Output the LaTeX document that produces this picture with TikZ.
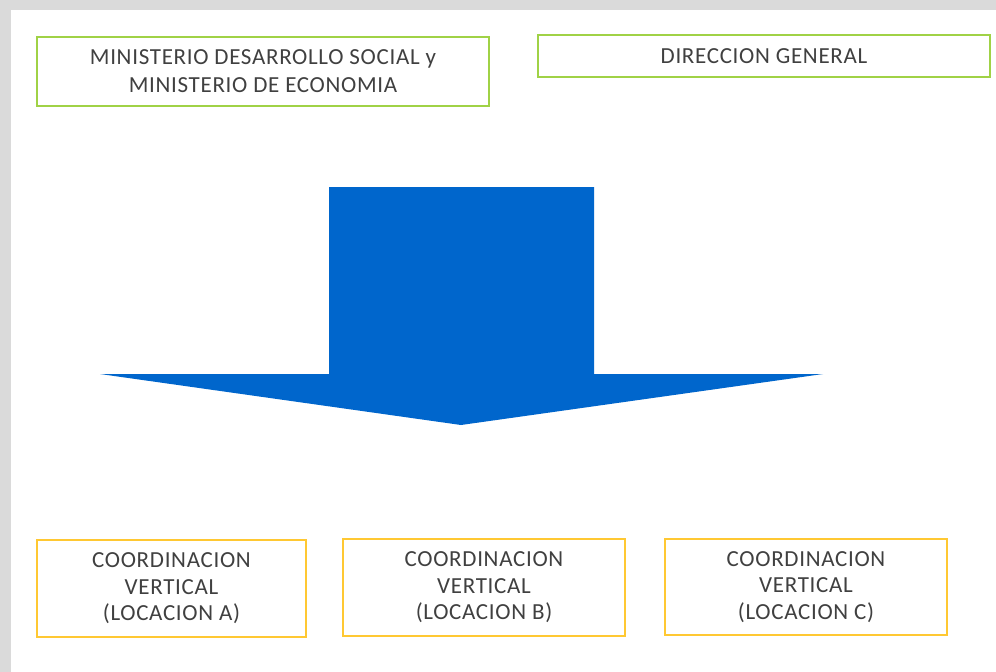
\documentclass[tikz,border=0pt]{standalone}
\usepackage{fontspec}
\setmainfont{Carlito}[LetterSpace=3]
\usepackage{tikz}
\usetikzlibrary{calc}
\definecolor{bordergreen}{RGB}{160,210,70}
\definecolor{bordergold}{RGB}{255,200,50}
\definecolor{arrowblue}{RGB}{0,102,204}
\definecolor{textgray}{RGB}{64,64,64}
\definecolor{framegray}{RGB}{218,218,218}
\tikzset{
	box/.style={draw, line width=1.5pt, fill=white, align=center, inner sep=0pt,
		text=textgray, font=\fontsize{23}{28}\selectfont},
	greenbox/.style={box, draw=bordergreen},
	goldbox/.style={box, draw=bordergold, font=\fontsize{23}{26.5}\selectfont}
}

\begin{document}
\begin{tikzpicture}[x=1pt, y=-1pt]
			% background and panel
			\fill[framegray] (0,0) rectangle (996,672);
			\fill[white] (11,10) rectangle (996,672);
			\useasboundingbox (0,0) rectangle (996,672);
			% top boxes
			\node[greenbox, minimum width=452pt, minimum height=69pt] (min) at (263,71.5) {MINISTERIO DESARROLLO SOCIAL y\\MINISTERIO DE ECONOMIA};
			\node[greenbox, minimum width=452pt, minimum height=42pt] (dir) at (764,56) {DIRECCION GENERAL};
			% big arrow
			\fill[arrowblue] (329,187) -- (594,187) -- (594,374) -- (823,374) -- (461,425) -- (100,374) -- (329,374) -- cycle;
			% bottom boxes
			\node[goldbox, minimum width=269pt, minimum height=97pt] (locA) at (171.5,588.5) {COORDINACION\\VERTICAL\\(LOCACION A)};
			\node[goldbox, minimum width=282pt, minimum height=97pt] (locB) at (484,587.5) {COORDINACION\\VERTICAL\\(LOCACION B)};
			\node[goldbox, minimum width=282pt, minimum height=96pt] (locC) at (806,587) {COORDINACION\\VERTICAL\\(LOCACION C)};
		\end{tikzpicture}
\end{document}
